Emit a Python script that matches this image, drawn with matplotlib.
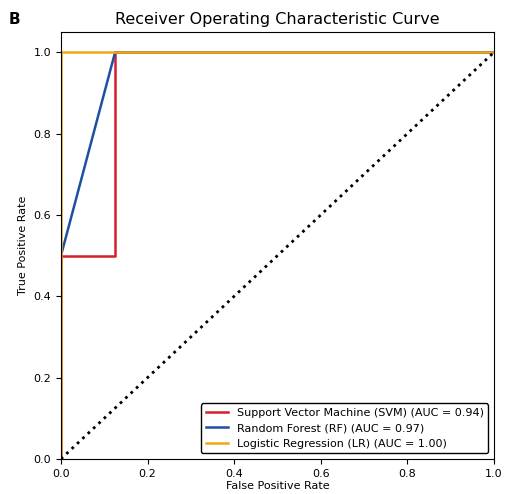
import matplotlib
matplotlib.use("Agg")
import matplotlib.pyplot as plt

# ROC points
svm_fpr = [0.0, 0.0, 0.125, 0.125, 1.0]
svm_tpr = [0.0, 0.5, 0.5, 1.0, 1.0]
rf_fpr = [0.0, 0.0, 0.125, 1.0]
rf_tpr = [0.0, 0.5, 1.0, 1.0]
lr_fpr = [0.0, 0.0, 1.0]
lr_tpr = [0.0, 1.0, 1.0]
labels = ["Support Vector Machine (SVM) (AUC = 0.94)",
          "Random Forest (RF) (AUC = 0.97)",
          "Logistic Regression (LR) (AUC = 1.00)"]

fig = plt.figure(figsize=(5.08, 4.94), dpi=100)
ax = fig.add_axes([0.12, 0.071, 0.852, 0.864])

ax.plot(svm_fpr, svm_tpr, color="#d4202c", lw=1.8, label=labels[0])
ax.plot(rf_fpr, rf_tpr, color="#1f4fa0", lw=1.8, label=labels[1])
ax.plot(lr_fpr, lr_tpr, color="#f0a818", lw=1.8, label=labels[2])
ax.plot([0, 1], [0, 1], color="black", lw=2, linestyle=":")

ax.set_xlim(0, 1)
ax.set_ylim(0, 1.05)
ax.tick_params(labelsize=8)
ax.set_xlabel("False Positive Rate", fontsize=8, labelpad=2)
ax.set_ylabel("True Positive Rate", fontsize=8)
ax.set_title("Receiver Operating Characteristic Curve", fontsize=11.5)
ax.legend(loc="lower right", fontsize=8, edgecolor="black",
          fancybox=True, framealpha=1)

fig.text(0.016, 0.975, "B", fontsize=11, fontweight="bold", va="top")

plt.savefig("out.png", dpi=100)
